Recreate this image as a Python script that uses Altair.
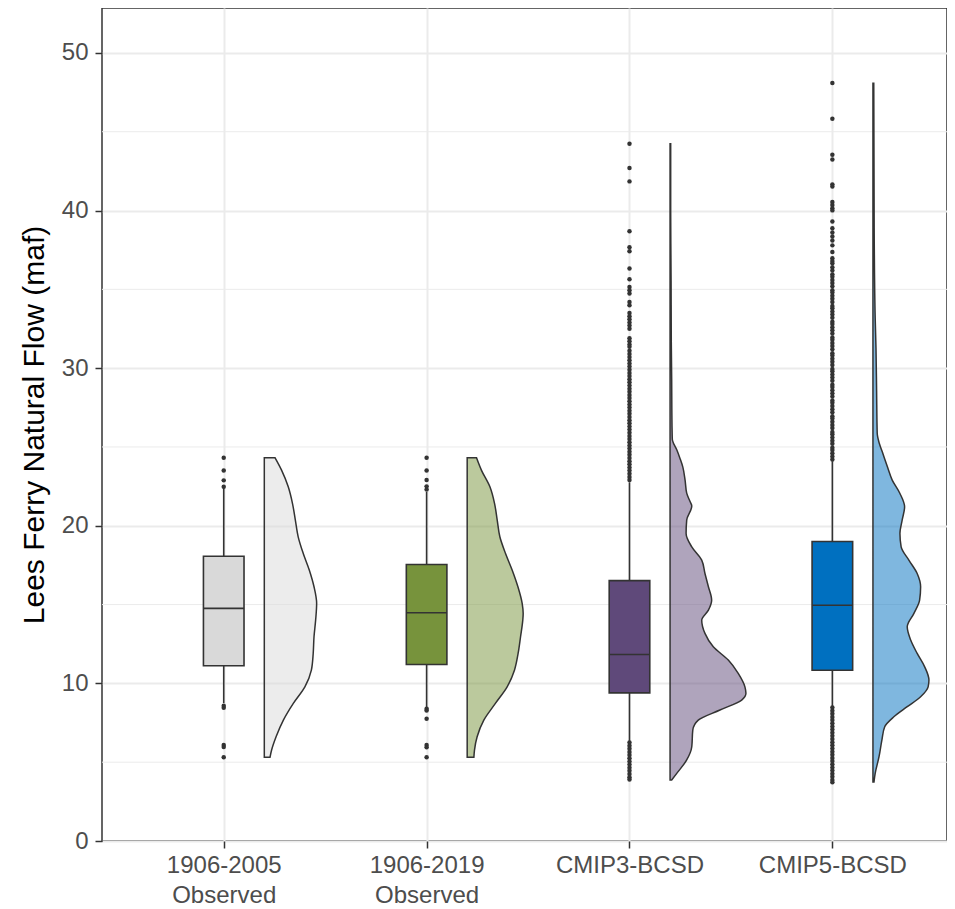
import altair as alt
import pandas as pd

# ---------------- data ----------------
categories = ["1906-2005\nObserved", "1906-2019\nObserved", "CMIP3-BCSD", "CMIP5-BCSD"]
palette = ["#D9D9D9", "#77933C", "#5F497A", "#0070C0"]

whisker_low = [8.75, 8.50, 6.35, 8.55]
q1 = [11.12, 11.20, 9.40, 10.83]
median = [14.76, 14.48, 11.83, 14.96]
q3 = [18.07, 17.54, 16.52, 19.00]
whisker_high = [22.40, 22.15, 22.76, 24.10]

outliers_1 = [24.31, 23.50, 22.88, 22.48, 8.58, 8.45, 6.09, 5.97, 5.31]
outliers_2 = [24.31, 23.50, 22.90, 22.50, 22.30, 8.39, 8.28, 7.76, 6.09, 5.95, 5.31]
outliers_3 = [44.24, 42.70, 41.85, 38.68, 37.67, 37.41, 36.32, 35.64, 35.15, 34.94,
              34.73, 34.20, 33.99, 33.50, 33.30, 33.10, 32.90, 32.70, 32.50, 31.90,
              31.70, 31.50, 31.35, 31.10, 30.90, 30.70, 30.50, 30.30, 30.10, 29.90,
              29.70, 29.50, 29.30, 29.10, 28.90, 28.70, 28.50, 28.30, 28.10, 27.90,
              27.70, 27.50, 27.30, 27.10, 26.90, 26.70, 26.50, 26.30, 26.10, 25.90,
              25.70, 25.50, 25.30, 25.10, 24.90, 24.70, 24.50, 24.30, 24.10, 23.90,
              23.70, 23.50, 23.30, 23.10, 22.90,
              6.25, 6.05, 5.85, 5.65, 5.45, 5.25, 5.05, 4.85, 4.65, 4.45, 4.25, 4.05, 3.90]
outliers_4 = [48.09, 45.82, 43.54, 43.24, 41.66, 41.53, 40.54, 40.35, 40.15, 40.01,
              39.31, 38.87, 38.60, 38.35, 38.10, 37.79, 37.37, 36.97, 36.80, 36.65,
              36.40, 36.20, 35.95, 35.80, 35.60, 35.40, 35.20, 34.95, 34.80, 34.60,
              34.40, 34.20, 33.95, 33.80, 33.60, 33.40, 33.20, 32.95, 32.80, 32.60,
              32.40, 32.20, 31.95, 31.80, 31.60, 31.40, 31.20, 30.95, 30.80, 30.60,
              30.40, 30.20, 29.95, 29.80, 29.60, 29.40, 29.20, 28.95, 28.80, 28.60,
              28.40, 28.20, 27.95, 27.80, 27.60, 27.40, 27.20, 26.95, 26.80, 26.60,
              26.40, 26.20, 25.95, 25.80, 25.60, 25.40, 25.20, 24.95, 24.80, 24.60,
              24.40, 24.20,
              8.47, 8.27, 8.07, 7.87, 7.67, 7.47, 7.27, 7.07, 6.87, 6.67, 6.47, 6.27,
              6.07, 5.87, 5.67, 5.47, 5.27, 5.07, 4.87, 4.67, 4.47, 4.27, 4.07, 3.87, 3.72]

violin_y_1 = [24.31, 23.53, 22.47, 21.41, 20.36, 19.30, 18.24, 17.18, 16.13, 15.07,
              14.01, 12.96, 11.90, 10.84, 9.78, 8.73, 7.67, 6.61, 5.77, 5.31]
violin_w_1 = [0.053, 0.085, 0.118, 0.139, 0.153, 0.167, 0.192, 0.222, 0.245, 0.258,
              0.253, 0.245, 0.241, 0.232, 0.200, 0.143, 0.094, 0.058, 0.036, 0.028]

violin_y_2 = [24.31, 23.53, 22.47, 21.41, 20.36, 19.30, 18.24, 17.18, 16.13, 15.07,
              14.44, 14.01, 12.96, 11.90, 10.84, 9.78, 8.73, 7.67, 6.61, 5.77, 5.31]
violin_w_2 = [0.046, 0.070, 0.112, 0.135, 0.148, 0.161, 0.189, 0.222, 0.250, 0.271,
              0.276, 0.274, 0.263, 0.251, 0.233, 0.197, 0.139, 0.082, 0.049, 0.036, 0.033]

violin_y_3 = [44.24, 40.00, 35.55, 31.69, 29.22, 27.00, 25.51, 25.37, 24.82, 24.27,
              23.72, 22.90, 22.07, 21.52, 21.25, 20.36, 19.51, 18.66, 17.82, 16.97,
              16.13, 15.28, 14.65, 14.01, 13.17, 12.32, 11.48, 10.63, 9.78, 9.37,
              8.94, 8.31, 7.67, 7.04, 5.98, 5.14, 4.29, 3.87]
violin_w_3 = [0.003, 0.003, 0.005, 0.006, 0.008, 0.009, 0.011, 0.013, 0.033, 0.049,
              0.063, 0.074, 0.082, 0.099, 0.107, 0.082, 0.079, 0.107, 0.156, 0.172,
              0.189, 0.205, 0.189, 0.156, 0.172, 0.213, 0.287, 0.336, 0.369, 0.374,
              0.353, 0.246, 0.139, 0.112, 0.107, 0.082, 0.033, 0.008]

violin_y_4 = [48.08, 38.90, 33.20, 31.27, 28.58, 25.88, 25.28, 24.69, 23.79, 22.90,
              22.05, 21.20, 20.36, 19.51, 18.66, 17.82, 16.97, 16.13, 15.28, 14.44,
              13.59, 12.75, 11.90, 11.05, 10.21, 9.78, 9.15, 8.52, 7.88, 7.25,
              6.40, 5.35, 4.29, 3.74]
violin_w_4 = [0.004, 0.006, 0.011, 0.015, 0.018, 0.021, 0.030, 0.046, 0.070, 0.095,
              0.133, 0.156, 0.144, 0.133, 0.139, 0.177, 0.218, 0.235, 0.230, 0.202,
              0.169, 0.186, 0.218, 0.255, 0.276, 0.272, 0.235, 0.169, 0.103, 0.058,
              0.044, 0.030, 0.011, 0.005]

y_major = [0, 10, 20, 30, 40, 50]
y_minor = [5, 15, 25, 35, 45]
y_title = "Lees Ferry Natural Flow (maf)"

# ---------------- tables ----------------
positions = list(range(1, len(categories) + 1))
box_df = pd.DataFrame({"cat": categories, "pos": positions, "lo": whisker_low, "q1": q1,
                       "med": median, "q3": q3, "hi": whisker_high})

out_lists = [outliers_1, outliers_2, outliers_3, outliers_4]
out_df = pd.DataFrame([{"cat": c, "pos": p, "y": v}
                       for c, p, vals in zip(categories, positions, out_lists) for v in vals])

vy = [violin_y_1, violin_y_2, violin_y_3, violin_y_4]
vw = [violin_w_1, violin_w_2, violin_w_3, violin_w_4]
vio_df = pd.DataFrame([{"cat": c, "pos": p, "y": y, "w": w}
                       for c, p, ys, ws in zip(categories, positions, vy, vw)
                       for y, w in zip(ys, ws)])

minor_df = pd.DataFrame({"y": y_minor})

# x-axis labels from the category names
expr = "''"
for p, c in reversed(list(zip(positions, categories))):
    lines = c.split("\n")
    lab = "[" + ", ".join("'" + s + "'" for s in lines) + "]" if len(lines) > 1 else "'" + c + "'"
    expr = f"datum.value == {p} ? {lab} : ({expr})"

FONT = "Liberation Sans"
xscale = alt.Scale(domain=[0.4, 4.565], nice=False, zero=False)
yscale = alt.Scale(domain=[0, 52.85], nice=False, zero=False)
xaxis = alt.Axis(values=positions, labelExpr=expr, title=None, grid=True,
                 gridColor="#EBEBEB", gridWidth=2, domain=False, tickColor="#333333",
                 tickWidth=1.5, tickSize=7, labelFontSize=24, labelColor="#4D4D4D",
                 labelFont=FONT, labelPadding=5, labelLineHeight=30)
yaxis = alt.Axis(values=y_major, title=y_title, grid=True, gridColor="#EBEBEB",
                 gridWidth=2, domain=False, tickColor="#333333", tickWidth=1.5,
                 tickSize=7, labelFontSize=24, labelColor="#4D4D4D", labelFont=FONT,
                 labelPadding=7, titleFontSize=30, titleFont=FONT, titleColor="#000000",
                 titleFontWeight="normal", titlePadding=12)
fill = alt.Fill("cat:N", scale=alt.Scale(domain=categories, range=palette), legend=None)

minor = alt.Chart(minor_df).mark_rule(color="#EBEBEB", strokeWidth=1).encode(
    y=alt.Y("y:Q", scale=yscale, axis=yaxis))

base_box = alt.Chart(box_df).transform_calculate(xl="datum.pos - 0.1", xr="datum.pos + 0.1")

LW = 1.6
wl = base_box.mark_rule(color="#333333", strokeWidth=LW).encode(
    x=alt.X("pos:Q", scale=xscale, axis=xaxis), y=alt.Y("lo:Q", scale=yscale, axis=yaxis), y2="q1:Q")
wh = base_box.mark_rule(color="#333333", strokeWidth=LW).encode(
    x=alt.X("pos:Q", scale=xscale, axis=xaxis), y=alt.Y("q3:Q", scale=yscale, axis=yaxis), y2="hi:Q")
box = base_box.mark_rect(stroke="#333333", strokeWidth=LW).encode(
    x=alt.X("xl:Q", scale=xscale, axis=xaxis), x2="xr:Q",
    y=alt.Y("q1:Q", scale=yscale, axis=yaxis), y2="q3:Q", fill=fill)
med = base_box.mark_rule(color="#333333", strokeWidth=LW).encode(
    x=alt.X("xl:Q", scale=xscale, axis=xaxis), x2="xr:Q",
    y=alt.Y("med:Q", scale=yscale, axis=yaxis))

pts = alt.Chart(out_df).mark_circle(size=20, color="#333333", opacity=1).encode(
    x=alt.X("pos:Q", scale=xscale, axis=xaxis), y=alt.Y("y:Q", scale=yscale, axis=yaxis))

vio = alt.Chart(vio_df).transform_calculate(
    xa="datum.pos + 0.2", xb="datum.pos + 0.2 + datum.w"
).mark_area(orient="horizontal", fillOpacity=0.5, stroke="#333333", strokeWidth=1.5,
            strokeOpacity=1, interpolate="monotone").encode(
    y=alt.Y("y:Q", scale=yscale, axis=yaxis),
    x=alt.X("xa:Q", scale=xscale, axis=xaxis), x2="xb:Q", fill=fill, detail="cat:N")

chart = alt.layer(minor, wl, wh, box, med, pts, vio).properties(
    width=845, height=833,
    padding={"left": 94, "top": 0, "right": 0, "bottom": 68},
    autosize=alt.AutoSizeParams(type="none"),
    background="white",
).configure_view(stroke="#333333", strokeWidth=1.5)

chart.save("out.html", embed_options={"renderer": "svg", "actions": False})
